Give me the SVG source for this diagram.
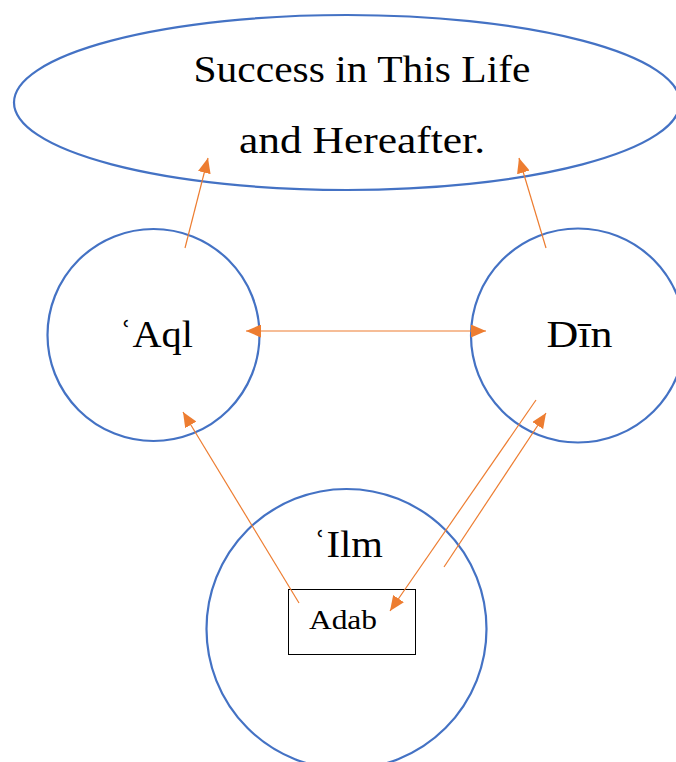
<svg xmlns="http://www.w3.org/2000/svg" width="676" height="762" viewBox="0 0 676 762">
<style>
.node{fill:none;stroke:#4472C4;stroke-width:2.2}
.lbl{font-family:"Liberation Serif","DejaVu Serif",serif;fill:#000;text-anchor:middle}
.conn{stroke:#ED7D31;stroke-width:1.2;fill:none}
</style>
<defs>
<marker id="ah" markerUnits="userSpaceOnUse" markerWidth="16" markerHeight="13" refX="15" refY="6.5" orient="auto-start-reverse">
<path d="M0,0 L15,6.5 L0,13 z" fill="#ED7D31"/>
</marker>
</defs>
<rect width="676" height="762" fill="#fff"/>
<g id="success">
<ellipse class="node" cx="347" cy="102.5" rx="333" ry="87.5"/>
<text class="lbl" x="362" y="82" font-size="38" textLength="337" lengthAdjust="spacingAndGlyphs">Success in This Life</text>
<text class="lbl" x="362" y="153" font-size="38" textLength="246" lengthAdjust="spacingAndGlyphs">and Hereafter.</text>
</g>
<g id="aql">
<circle class="node" cx="153.5" cy="335" r="106"/>
<text class="lbl" x="156" y="347" font-size="38" textLength="74" lengthAdjust="spacingAndGlyphs">ʿAql</text>
</g>
<g id="din">
<circle class="node" cx="578" cy="335.5" r="107"/>
<text class="lbl" x="579.5" y="347" font-size="38" textLength="66" lengthAdjust="spacingAndGlyphs">Dīn</text>
</g>
<g id="ilm">
<circle class="node" cx="346.5" cy="629" r="140"/>
<text class="lbl" x="348" y="557" font-size="38" textLength="70" lengthAdjust="spacingAndGlyphs">ʿIlm</text>
</g>
<g id="adab">
<rect x="288.5" y="589.5" width="127" height="65" fill="none" stroke="#000" stroke-width="1"/>
<text class="lbl" x="343" y="629" font-size="27" textLength="68" lengthAdjust="spacingAndGlyphs">Adab</text>
</g>
<g id="connectors">
<line class="conn" x1="185" y1="248" x2="208" y2="158" marker-end="url(#ah)"/>
<line class="conn" x1="546" y1="248" x2="519" y2="158" marker-end="url(#ah)"/>
<line class="conn" x1="246" y1="331" x2="486" y2="331" marker-start="url(#ah)" marker-end="url(#ah)"/>
<line class="conn" x1="299" y1="603" x2="183" y2="412" marker-end="url(#ah)"/>
<line class="conn" x1="536" y1="400" x2="390" y2="611" marker-end="url(#ah)"/>
<line class="conn" x1="444" y1="567" x2="546" y2="413" marker-end="url(#ah)"/>
</g>
</svg>
